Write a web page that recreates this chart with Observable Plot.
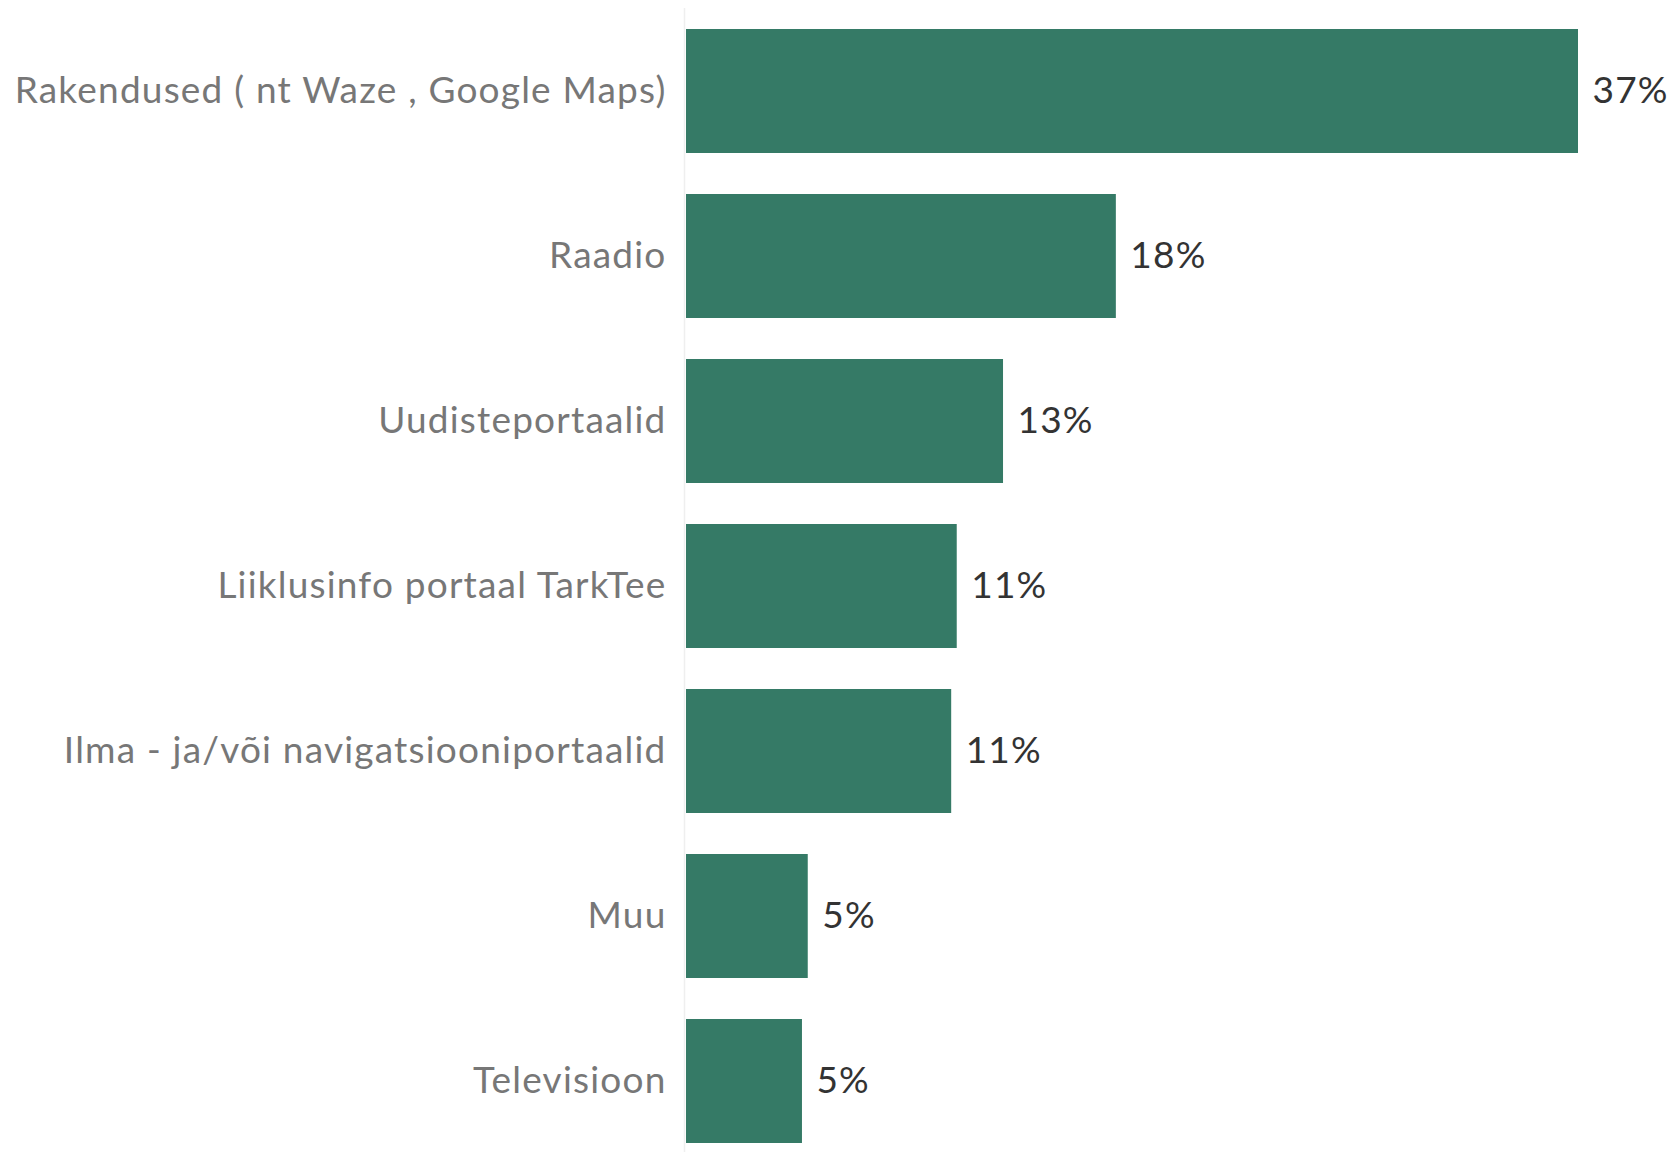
<!DOCTYPE html>
<html>
<head>
<meta charset="utf-8">
<script src="https://cdn.jsdelivr.net/npm/d3@7"></script>
<script src="https://cdn.jsdelivr.net/npm/@observablehq/plot@0.6"></script>
<style>
  html, body { margin: 0; padding: 0; background: #fff; }
  svg text { letter-spacing: 1.2px; }
</style>
</head>
<body>
<div id="chart"></div>
<script>
const categories = [
  "Rakendused ( nt Waze , Google Maps)",
  "Raadio",
  "Uudisteportaalid",
  "Liiklusinfo portaal TarkTee",
  "Ilma - ja/või navigatsiooniportaalid",
  "Muu",
  "Televisioon"
];
const values = [37.0, 17.83, 13.15, 11.23, 11.0, 5.05, 4.81];
const valueLabels = ["37%", "18%", "13%", "11%", "11%", "5%", "5%"];

const data = categories.map((c, i) => ({category: c, value: values[i], label: valueLabels[i]}));

const chart = Plot.plot({
  width: 1677,
  height: 1152,
  marginLeft: 686,
  marginRight: 99,
  marginTop: 8,
  marginBottom: 0,
  style: {fontFamily: "Lato", fontSize: "37px", background: "#fff"},
  x: {domain: [0, 37], axis: null},
  y: {domain: categories, range: [27, 1145], paddingInner: 0.2515, paddingOuter: 0, label: null},
  marks: [
    Plot.ruleX([0], {stroke: "#efefef", strokeWidth: 1.5, dx: -2}),
    Plot.barX(data, {x: "value", y: "category", fill: "#357a66"}),
    Plot.text(data, {x: "value", y: "category", text: "label", textAnchor: "start", dx: 14, fill: "#333"}),
    Plot.axisY({tickSize: 0, tickPadding: 20, fill: "#777", label: null})
  ]
});
document.getElementById("chart").appendChild(chart);
</script>
</body>
</html>
